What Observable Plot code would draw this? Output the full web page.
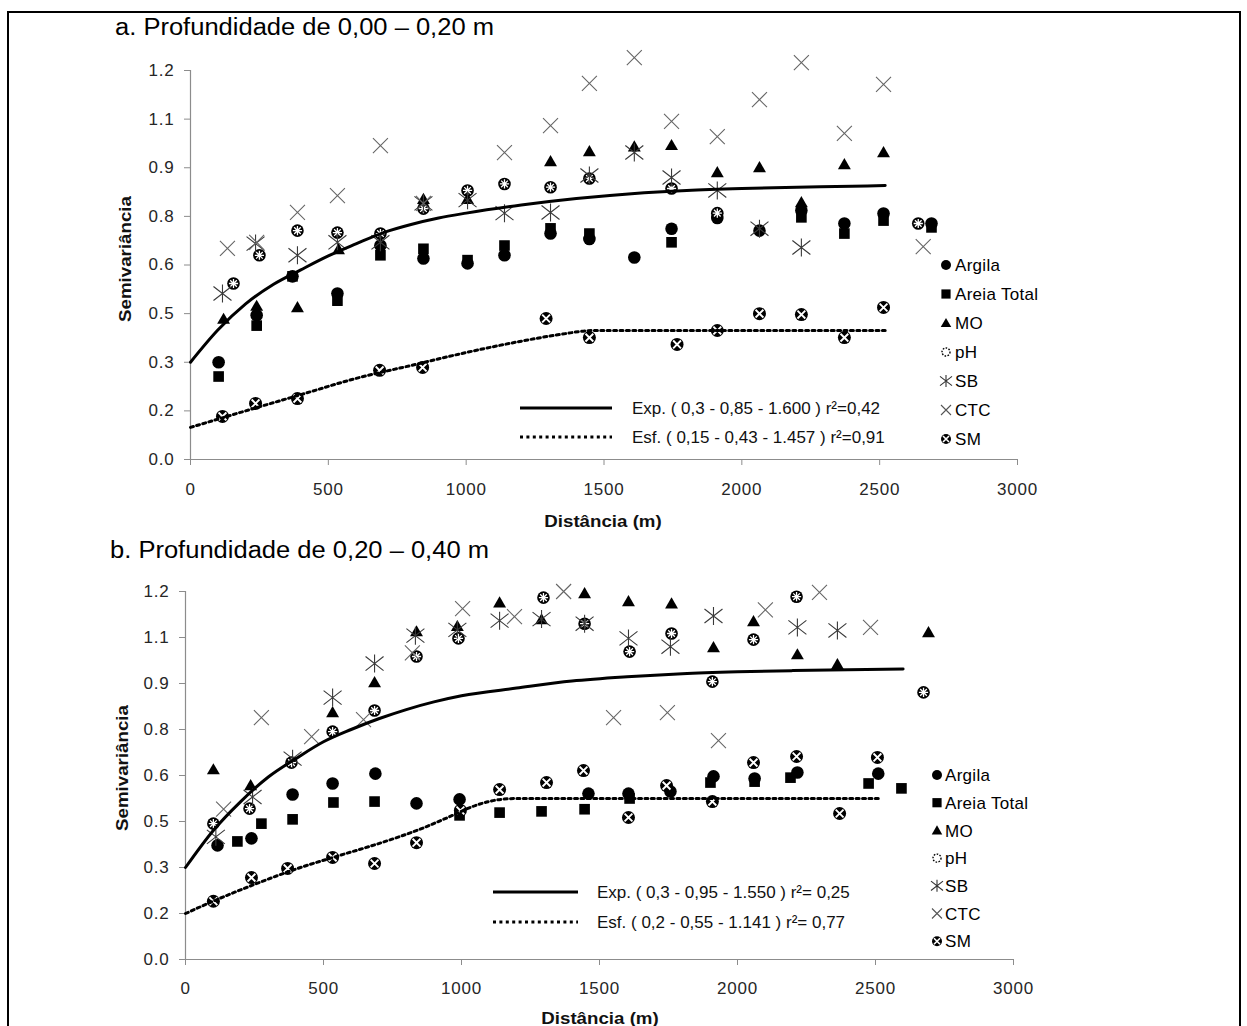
<!DOCTYPE html>
<html><head><meta charset="utf-8">
<script src="https://cdn.jsdelivr.net/npm/d3@7"></script>
<script src="https://cdn.jsdelivr.net/npm/@observablehq/plot@0.6"></script>
<style>
body{margin:0;background:#fff;font-family:"Liberation Sans",Arial,sans-serif;}
#page{position:relative;width:1247px;height:1026px;overflow:hidden;background:#fff;}
.frame{position:absolute;left:7px;top:11px;width:1234px;height:1100px;border:2px solid #000;box-sizing:border-box;}
.title{position:absolute;font-size:23px;line-height:1;color:#000;white-space:nowrap;transform:scaleX(1.11);transform-origin:0 0;}
.ylab{position:absolute;font-weight:bold;font-size:17px;line-height:1;transform:translate(-50%,-50%) rotate(-90deg) scaleX(1.1);white-space:nowrap;color:#111;}
.xlab{position:absolute;font-weight:bold;font-size:17px;line-height:1;transform:translate(-50%,-50%) scaleX(1.1);white-space:nowrap;color:#111;}
.abs{position:absolute;left:0;}
</style></head>
<body><div id="page">
<div class="frame"></div>
<div class="title" style="left:115px;top:16px">a. Profundidade de 0,00 – 0,20 m</div>
<div class="title" style="left:110px;top:539px">b. Profundidade de 0,20 – 0,40 m</div>
<div id="pa" class="abs" style="top:40px"></div>
<div id="pb" class="abs" style="top:560px"></div>
<div class="ylab" style="left:125px;top:259px">Semivariância</div>
<div class="ylab" style="left:122px;top:768px">Semivariância</div>
<div class="xlab" style="left:603px;top:521px">Distância (m)</div>
<div class="xlab" style="left:600px;top:1018px">Distância (m)</div>
</div>
<script>
// ---------- tick definitions ----------
const xTicks = [0, 500, 1000, 1500, 2000, 2500, 3000];
const yTicks = [0, 0.15, 0.3, 0.45, 0.6, 0.75, 0.9, 1.05, 1.2];
const yTickLabels = ["0.0", "0.2", "0.3", "0.5", "0.6", "0.8", "0.9", "1.1", "1.2"];
const seriesNames = ["Argila", "Areia Total", "MO", "pH", "SB", "CTC", "SM"];

// ---------- panel a (0,00 – 0,20 m): [distance m, semivariance] ----------
const aArgila = [[102,0.30],[240,0.445],[370,0.565],[533,0.512],[689,0.66],[845,0.62],[1005,0.605],[1139,0.63],[1306,0.697],[1447,0.68],[1610,0.623],[1745,0.712],[1911,0.745],[2064,0.706],[2216,0.768],[2372,0.728],[2514,0.759],[2688,0.728]];
const aAreia = [[102,0.256],[240,0.413],[370,0.565],[533,0.49],[689,0.63],[845,0.65],[1005,0.615],[1139,0.66],[1306,0.713],[1447,0.697],[1745,0.67],[2216,0.747],[2372,0.697],[2514,0.737],[2688,0.716]];
const aMO = [[120,0.43],[240,0.47],[388,0.466],[537,0.645],[689,0.665],[845,0.80],[1005,0.80],[1306,0.916],[1447,0.947],[1610,0.962],[1745,0.966],[1911,0.882],[2064,0.898],[2216,0.79],[2372,0.907],[2514,0.944]];
const apH = [[156,0.543],[250,0.63],[388,0.706],[533,0.70],[689,0.697],[845,0.774],[1005,0.83],[1139,0.85],[1306,0.84],[1447,0.867],[1745,0.836],[1911,0.76],[2640,0.728]];
const aSB = [[116,0.512],[236,0.666],[388,0.63],[533,0.67],[689,0.67],[845,0.79],[1005,0.80],[1139,0.76],[1306,0.762],[1447,0.876],[1610,0.947],[1745,0.87],[1911,0.83],[2064,0.712],[2216,0.654]];
const aCTC = [[134,0.651],[240,0.67],[388,0.762],[533,0.814],[689,0.968],[845,0.79],[1139,0.947],[1306,1.03],[1447,1.16],[1610,1.24],[1745,1.043],[1911,0.996],[2064,1.11],[2216,1.224],[2372,1.006],[2514,1.157],[2658,0.657]];
const aSM = [[116,0.133],[236,0.173],[388,0.188],[686,0.275],[842,0.284],[1290,0.435],[1447,0.376],[1765,0.355],[1911,0.398],[2064,0.45],[2216,0.447],[2372,0.376],[2514,0.469]];
// fitted model curves
const aExp = [[0,0.30],[100,0.40],[200,0.48],[300,0.54],[400,0.585],[500,0.628],[600,0.665],[700,0.70],[800,0.725],[900,0.745],[1000,0.76],[1200,0.785],[1400,0.805],[1600,0.82],[1800,0.83],[2000,0.836],[2200,0.84],[2400,0.843],[2520,0.845]];
const aSph = [[0,0.099],[200,0.15],[400,0.20],[600,0.25],[800,0.29],[1000,0.33],[1200,0.365],[1350,0.387],[1460,0.398],[2520,0.398]];
const aExpLabel = "Exp. ( 0,3 - 0,85 - 1.600 ) r²=0,42";
const aSphLabel = "Esf. ( 0,15 - 0,43 - 1.457 ) r²=0,91";

// ---------- panel b (0,20 – 0,40 m) ----------
const bArgila = [[116,0.372],[239,0.395],[388,0.538],[533,0.574],[688,0.606],[837,0.509],[993,0.522],[1460,0.541],[1605,0.541],[1757,0.548],[1913,0.597],[2062,0.59],[2217,0.61],[2510,0.606]];
const bAreia = [[188,0.385],[275,0.443],[388,0.457],[536,0.512],[685,0.515],[993,0.47],[1138,0.479],[1290,0.483],[1446,0.49],[1609,0.525],[1902,0.577],[2062,0.58],[2192,0.593],[2475,0.574],[2594,0.558]];
const bMO = [[101,0.616],[236,0.564],[533,0.802],[685,0.90],[837,1.066],[985,1.083],[1138,1.16],[1290,1.105],[1446,1.19],[1605,1.164],[1761,1.157],[1913,1.014],[2058,1.099],[2217,0.991],[2362,0.959],[2692,1.063]];
const bpH = [[101,0.443],[232,0.492],[384,0.642],[533,0.743],[685,0.812],[837,0.988],[989,1.047],[1297,1.18],[1446,1.095],[1609,1.004],[1761,1.063],[1909,0.906],[2058,1.043],[2214,1.183],[2674,0.871]];
const bSB = [[110,0.40],[243,0.53],[388,0.655],[533,0.854],[685,0.965],[833,1.056],[985,1.075],[1138,1.105],[1290,1.11],[1446,1.095],[1605,1.047],[1757,1.02],[1913,1.12],[2217,1.083],[2362,1.073]];
const bCTC = [[138,0.49],[275,0.789],[457,0.727],[645,0.782],[822,1.0],[1004,1.144],[1192,1.118],[1370,1.2],[1551,0.789],[1746,0.805],[1931,0.714],[2101,1.14],[2297,1.197],[2482,1.083]];
const bSM = [[101,0.19],[239,0.267],[370,0.297],[533,0.333],[685,0.313],[837,0.381],[996,0.486],[1138,0.554],[1308,0.577],[1442,0.616],[1605,0.463],[1743,0.567],[1909,0.515],[2058,0.642],[2214,0.662],[2370,0.476],[2507,0.659]];
const bExp = [[0,0.30],[100,0.42],[200,0.515],[300,0.595],[400,0.655],[500,0.71],[600,0.75],[700,0.785],[800,0.815],[900,0.84],[1000,0.86],[1200,0.885],[1400,0.908],[1600,0.922],[1800,0.932],[2000,0.938],[2200,0.942],[2400,0.945],[2600,0.947]];
const bSph = [[0,0.15],[100,0.19],[250,0.245],[400,0.295],[550,0.337],[700,0.378],[850,0.425],[950,0.463],[1050,0.502],[1120,0.519],[1200,0.525],[2510,0.525]];
const bExpLabel = "Exp. ( 0,3 - 0,95 - 1.550 ) r²= 0,25";
const bSphLabel = "Esf. ( 0,2 - 0,55 - 1.141 ) r²= 0,77";

// ---------- custom symbols ----------
const symTimes = {draw(c, s) { const r = Math.sqrt(s / Math.PI); c.moveTo(-r, -r); c.lineTo(r, r); c.moveTo(-r, r); c.lineTo(r, -r); }};
const symAst = {draw(c, s) { const r = Math.sqrt(s / Math.PI); c.moveTo(0, -r); c.lineTo(0, r); const a = r, b = r * 0.78; c.moveTo(-a, -b); c.lineTo(a, b); c.moveTo(-a, b); c.lineTo(a, -b); }};
const symStar = {draw(c, s) { const r = Math.sqrt(s / Math.PI); const d = r * 0.72; c.moveTo(0, -r); c.lineTo(0, r); c.moveTo(-r, 0); c.lineTo(r, 0); c.moveTo(-d, -d); c.lineTo(d, d); c.moveTo(-d, d); c.lineTo(d, -d); }};

const toObj = arr => arr.map(([d, v]) => ({d, v}));
const yLabelMap = new Map(yTicks.map((t, i) => [t, yTickLabels[i]]));
const AX = "#8c8c8c";

function panel(S, m, height, tickPad) {
  const argila = toObj(S.argila), areia = toObj(S.areia), mo = toObj(S.mo), ph = toObj(S.ph),
        sb = toObj(S.sb), ctc = toObj(S.ctc), sm = toObj(S.sm), ex = toObj(S.exp), sp = toObj(S.sph);
  return Plot.plot({
    width: 1247, height,
    marginLeft: m.left, marginRight: m.right, marginTop: m.top, marginBottom: m.bottom,
    style: {fontFamily: '"Liberation Sans", Arial, sans-serif', fontSize: "17px", letterSpacing: "0.8px", background: "transparent", overflow: "visible"},
    x: {domain: [0, 3000]},
    y: {domain: [0, 1.2]},
    marks: [
      Plot.ruleY([0], {stroke: AX, strokeWidth: 1.2}),
      Plot.ruleX([0], {stroke: AX, strokeWidth: 1.2}),
      Plot.axisY({ticks: yTicks, tickFormat: d => yLabelMap.get(d), tickSize: 6, tickPadding: 10, stroke: AX, fill: "#262626", fontSize: 17, label: null}),
      Plot.axisX({ticks: xTicks, tickSize: 6, tickPadding: tickPad, stroke: AX, fill: "#262626", fontSize: 17, label: null, tickFormat: d => String(d)}),
      Plot.dot(argila, {x: "d", y: "v", r: 6.3, fill: "#000", symbol: "circle"}),
      Plot.dot(areia, {x: "d", y: "v", r: 6, fill: "#000", symbol: "square"}),
      Plot.dot(mo, {x: "d", y: "v", r: 4.8, fill: "#000", symbol: "triangle"}),
      Plot.dot(ph, {x: "d", y: "v", r: 6.3, fill: "#000", symbol: "circle"}),
      Plot.dot(ph, {x: "d", y: "v", r: 4.6, fill: "none", stroke: "#fff", strokeWidth: 1.3, symbol: symStar}),
      Plot.dot(sb, {x: "d", y: "v", r: 9, fill: "none", stroke: "#3a3a3a", strokeWidth: 1.1, symbol: symAst}),
      Plot.dot(ctc, {x: "d", y: "v", r: 7.5, fill: "none", stroke: "#666", strokeWidth: 1.1, symbol: symTimes}),
      Plot.dot(sm, {x: "d", y: "v", r: 6.5, fill: "#000", symbol: "circle"}),
      Plot.dot(sm, {x: "d", y: "v", r: 3.9, fill: "none", stroke: "#fff", strokeWidth: 1.9, symbol: symTimes}),
      Plot.line(ex, {x: "d", y: "v", curve: "monotone-x", stroke: "#000", strokeWidth: 3}),
      Plot.line(sp, {x: "d", y: "v", curve: "monotone-x", stroke: "#000", strokeWidth: 3, strokeDasharray: "3,3.4"})
    ]
  });
}

document.getElementById("pa").appendChild(panel(
  {argila: aArgila, areia: aAreia, mo: aMO, ph: apH, sb: aSB, ctc: aCTC, sm: aSM, exp: aExp, sph: aSph},
  {left: 190, right: 230, top: 30, bottom: 76}, 495, 17));
document.getElementById("pb").appendChild(panel(
  {argila: bArgila, areia: bAreia, mo: bMO, ph: bpH, sb: bSB, ctc: bCTC, sm: bSM, exp: bExp, sph: bSph},
  {left: 185, right: 234, top: 31, bottom: 81}, 480, 16));

// ---------- legends (overlay) ----------
const ov = d3.select("#page").append("svg").attr("width", 1247).attr("height", 1026)
  .style("position", "absolute").style("left", 0).style("top", 0).style("pointer-events", "none")
  .attr("font-family", '"Liberation Sans", Arial, sans-serif').attr("font-size", 17);

function swatch(g, name, x, y) {
  const s = g.append("g").attr("transform", `translate(${x},${y})`);
  const sym = (t, size) => d3.symbol(t, size)();
  if (name === "Argila") s.append("circle").attr("r", 5).attr("fill", "#000");
  if (name === "Areia Total") s.append("rect").attr("x", -4.6).attr("y", -4.6).attr("width", 9.2).attr("height", 9.2).attr("fill", "#000");
  if (name === "MO") s.append("path").attr("d", sym(d3.symbolTriangle, 48)).attr("fill", "#000").attr("transform", "translate(0,1)");
  if (name === "pH") s.append("circle").attr("r", 4).attr("fill", "none").attr("stroke", "#000").attr("stroke-width", 1.4).attr("stroke-dasharray", "1.6,1.4");
  if (name === "SB") s.append("path").attr("d", sym(symAst, Math.PI * 36)).attr("fill", "none").attr("stroke", "#333").attr("stroke-width", 1.1);
  if (name === "CTC") s.append("path").attr("d", sym(symTimes, Math.PI * 25)).attr("fill", "none").attr("stroke", "#555").attr("stroke-width", 1.1);
  if (name === "SM") {
    s.append("circle").attr("r", 5).attr("fill", "#000");
    s.append("path").attr("d", sym(symTimes, Math.PI * 9)).attr("fill", "none").attr("stroke", "#fff").attr("stroke-width", 1.6);
  }
}
function legend(mx, tx, y0, step) {
  const g = ov.append("g").attr("letter-spacing", "0.3px");
  seriesNames.forEach((n, i) => {
    const y = y0 + i * step;
    swatch(g, n, mx, y);
    g.append("text").attr("x", tx).attr("y", y).attr("dy", "0.36em").attr("fill", "#000").text(n);
  });
}
legend(946, 955, 265, 29);
legend(937, 945, 775, 27.7);

function lineLegend(x1, x2, tx, y1, y2, l1, l2) {
  const g = ov.append("g");
  g.append("line").attr("x1", x1).attr("x2", x2).attr("y1", y1).attr("y2", y1).attr("stroke", "#000").attr("stroke-width", 3);
  g.append("line").attr("x1", x1).attr("x2", x2).attr("y1", y2).attr("y2", y2).attr("stroke", "#000").attr("stroke-width", 3).attr("stroke-dasharray", "3,3.4");
  g.append("text").attr("x", tx).attr("y", y1).attr("dy", "0.36em").attr("fill", "#111").text(l1);
  g.append("text").attr("x", tx).attr("y", y2).attr("dy", "0.36em").attr("fill", "#111").text(l2);
}
lineLegend(520, 612, 632, 408, 437, aExpLabel, aSphLabel);
lineLegend(493, 578, 597, 892, 922, bExpLabel, bSphLabel);
</script>
</body></html>
